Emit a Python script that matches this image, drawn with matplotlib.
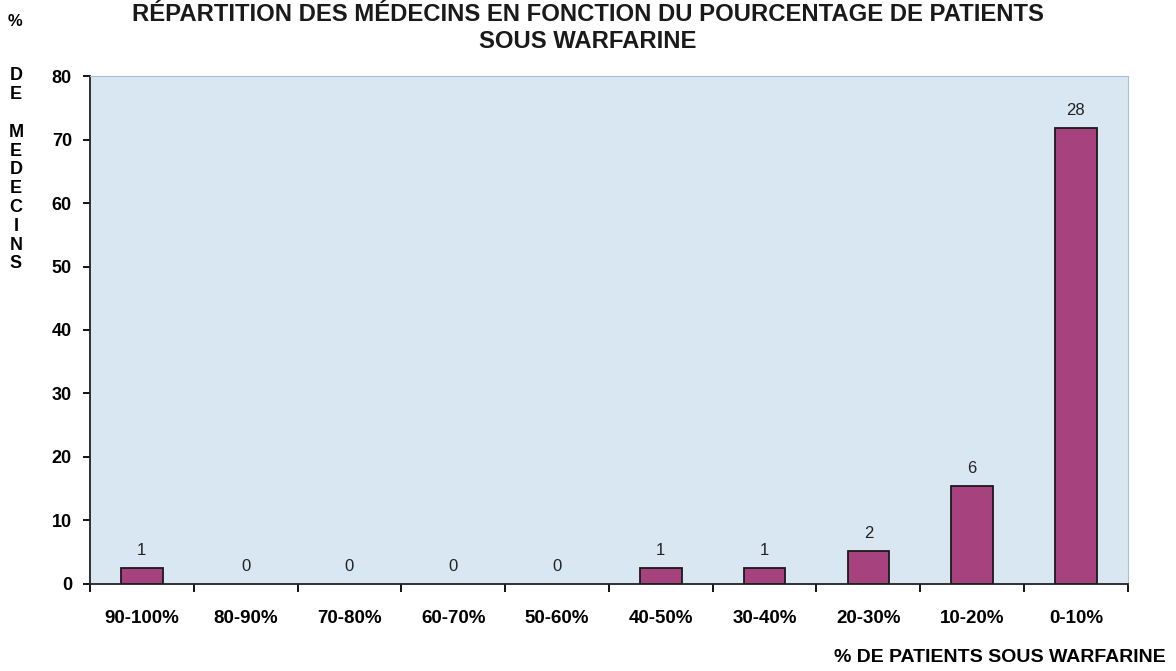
import numpy as np
import matplotlib.pyplot as plt

# categories and counts (39 doctors in total)
categories = ['90-100%', '80-90%', '70-80%', '60-70%', '50-60%',
              '40-50%', '30-40%', '20-30%', '10-20%', '0-10%']
counts = [1, 0, 0, 0, 0, 1, 1, 2, 6, 28]
percent = [c / sum(counts) * 100 for c in counts]

plt.rcParams['font.family'] = ['Liberation Sans', 'DejaVu Sans']

fig = plt.figure(figsize=(11.76, 6.71), dpi=100)
ax = fig.add_axes([0.0765, 0.1297, 0.8825, 0.757])
ax.set_facecolor('#d9e7f3')

x = np.arange(len(categories))
bars = ax.bar(x, percent, width=0.4, color='#a6437f', edgecolor='#1a1a1a', linewidth=1.3)
for b, c in zip(bars, counts):
    if c == 0:
        b.set_linewidth(0)  # empty classes show no bar

# count labels above each bar
for xi, p, c in zip(x, percent, counts):
    ax.text(xi, p + 1.6, str(c), ha='center', va='bottom', fontsize=12, color='#222222')

ax.set_xlim(-0.5, len(categories) - 0.5)
ax.set_ylim(0, 80)
ax.set_yticks(range(0, 81, 10))
ax.set_yticklabels([str(v) for v in range(0, 81, 10)], fontsize=13, fontweight='bold')

ax.set_xticks(x)
ax.set_xticklabels(categories, fontsize=13.5, fontweight='bold')
ax.tick_params(axis='x', length=0, pad=19)
ax.set_xticks(np.arange(-0.5, len(categories), 1), minor=True)
ax.tick_params(axis='x', which='minor', length=6, width=1.3, direction='out')
ax.tick_params(axis='y', length=5, width=1.3, direction='out', pad=8)

ax.spines['left'].set_color('#222222')
ax.spines['bottom'].set_color('#222222')
ax.spines['left'].set_linewidth(1.3)
ax.spines['bottom'].set_linewidth(1.3)
ax.spines['top'].set_color('#a9c0d6')
ax.spines['right'].set_color('#a9c0d6')

# two-line title
fig.text(588 / 1176, 1 - 21 / 671, "RÉPARTITION DES MÉDECINS EN FONCTION DU POURCENTAGE DE PATIENTS",
         ha='center', va='baseline', fontsize=17.2, fontweight='heavy', color='#1a1a1a')
fig.text(588 / 1176, 1 - 48 / 671, "SOUS WARFARINE",
         ha='center', va='baseline', fontsize=17.2, fontweight='heavy', color='#1a1a1a')

# stacked y label
fig.text(0.013, 1 - 22 / 671, '%', ha='center', va='center', fontsize=12, fontweight='bold')
letters = ['D', 'E', '', 'M', 'E', 'D', 'E', 'C', 'I', 'N', 'S']
for i, ch in enumerate(letters):
    fig.text(0.0135, 1 - (76 + i * 18.8) / 671, ch, ha='center', va='center',
             fontsize=13, fontweight='bold')

fig.text(0.991, 1 - 658 / 671, '% DE PATIENTS SOUS WARFARINE', ha='right', va='center',
         fontsize=14, fontweight='bold')

fig.savefig('out.png', dpi=100)
